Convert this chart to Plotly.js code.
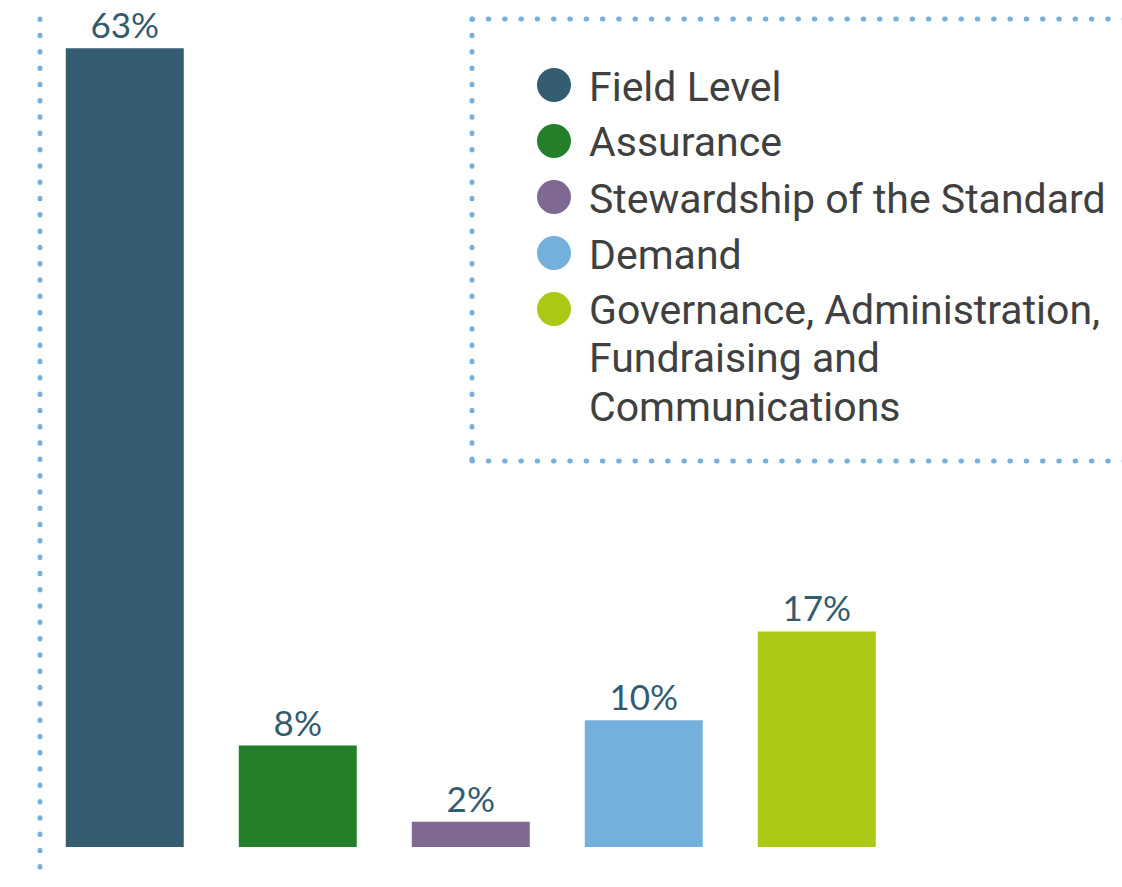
<!DOCTYPE html>
<html><head><meta charset="utf-8">
<script src="https://cdn.plot.ly/plotly-3.0.1.min.js"></script>
<style>html,body{margin:0;padding:0;background:#fff;} #chart{width:1122px;height:887px;}</style>
</head><body><div id="chart"></div>
<script>
// ---- data ----
const categories = ["Field Level", "Assurance", "Stewardship of the Standard", "Demand",
  "Governance, Administration, Fundraising and Communications"];
const values = [63, 8, 2, 10, 17];
const barColors = ["#345c72", "#237f2a", "#7f6894", "#73b0db", "#abc814"];

// ---- layout helpers (pixel -> paper) ----
const W = 1122, H = 887, M = {l: 40, r: 0, t: 10, b: 40};
const PW = W - M.l - M.r, PH = H - M.t - M.b;
const px = x => (x - M.l) / PW;
const py = y => (H - M.b - y) / PH;
const dotColor = "#74b1de";
const dotLine = {color: dotColor, width: 5, dash: "0.5px,15.8px"};

function wrap(text, maxChars) {
  const words = text.split(" "), lines = [];
  let cur = "";
  words.forEach(w => {
    const t = cur ? cur + " " + w : w;
    if (t.length > maxChars && cur) { lines.push(cur); cur = w; } else cur = t;
  });
  if (cur) lines.push(cur);
  return lines;
}

const shapes = [
  {type: "line", xref: "paper", yref: "paper", x0: px(40), x1: px(40), y0: py(19), y1: py(880), line: dotLine},
  {type: "line", xref: "paper", yref: "paper", x0: px(472), x1: px(1135), y0: py(19), y1: py(19), line: dotLine},
  {type: "line", xref: "paper", yref: "paper", x0: px(472), x1: px(472), y0: py(19), y1: py(461), line: dotLine},
  {type: "line", xref: "paper", yref: "paper", x0: px(472), x1: px(1135), y0: py(461), y1: py(461), line: dotLine}
];
const annotations = [];
categories.forEach((c, i) => {
  const cy = 85 + i * 56;
  shapes.push({type: "circle", xref: "paper", yref: "paper", x0: px(537), x1: px(571),
    y0: py(cy + 17), y1: py(cy - 17), fillcolor: barColors[i], line: {width: 0}});
  wrap(c, 27).forEach((ln, j) => {
    annotations.push({xref: "paper", yref: "paper", x: px(587), y: py(cy + 1.5 + j * 48),
      xanchor: "left", yanchor: "middle", text: ln, showarrow: false,
      font: {family: "Roboto", size: 41, color: "#404040"}});
  });
});

const trace = {
  type: "bar", x: categories, y: values,
  marker: {color: barColors},
  texttemplate: "%{y}%", textposition: "outside", cliponaxis: false, constraintext: "none",
  textfont: {family: "Lato", size: 35, color: "#335b70"},
  hoverinfo: "none"
};

const layout = {
  width: W, height: H, margin: M,
  paper_bgcolor: "#fff", plot_bgcolor: "#fff",
  showlegend: false, bargap: 0.318,
  xaxis: {type: "category", range: [-0.49, -0.49 + PW / 173], visible: false, fixedrange: true},
  yaxis: {range: [0, PH / 12.68], visible: false, fixedrange: true},
  shapes: shapes, annotations: annotations
};

Plotly.newPlot("chart", [trace], layout, {displayModeBar: false, staticPlot: true}).then(() => {
  document.querySelectorAll(".shapelayer path").forEach(p => { p.style.strokeLinecap = "round"; });
});
</script>
</body></html>
